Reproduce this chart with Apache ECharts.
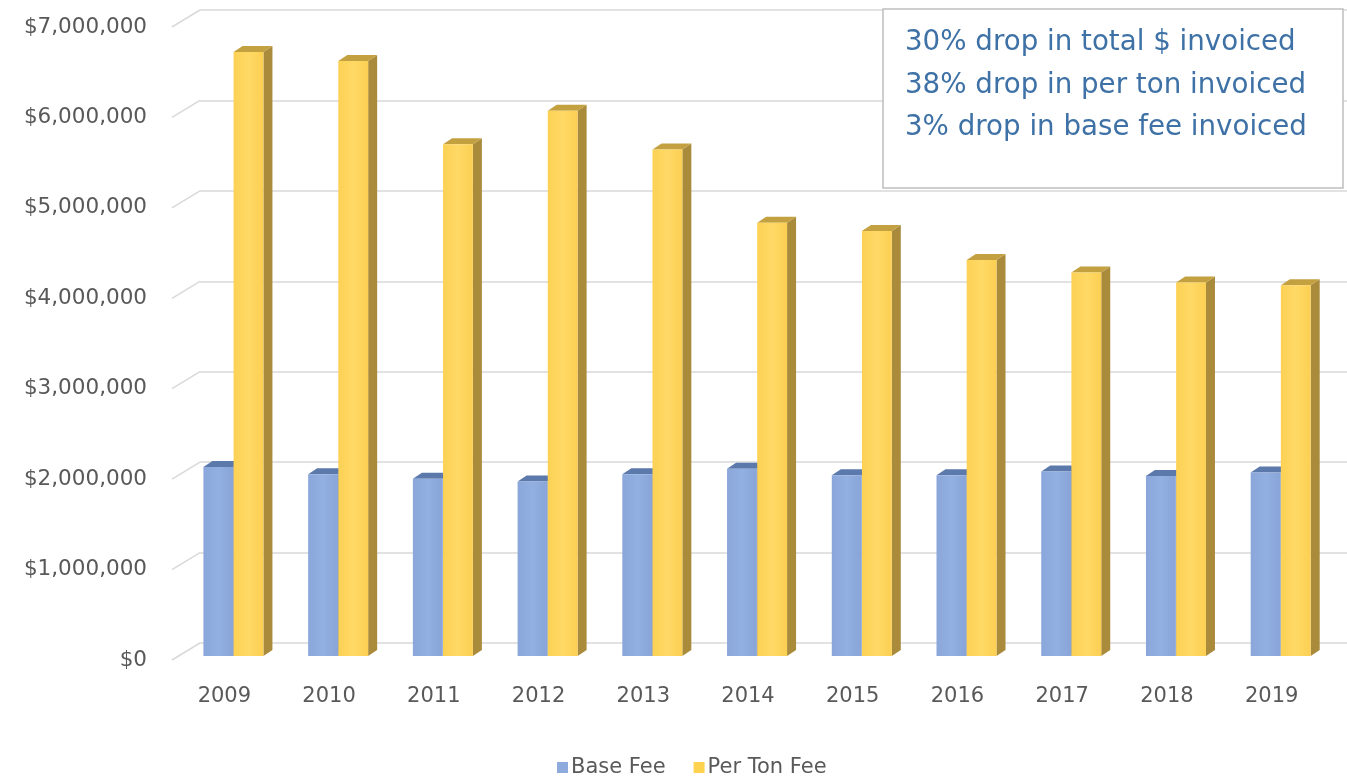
<!DOCTYPE html>
<html>
<head>
<meta charset="utf-8">
<title>Invoiced Fees 2009-2019</title>
<script src="https://cdn.jsdelivr.net/npm/echarts@6/dist/echarts.min.js"></script>
<style>
  html, body { margin: 0; padding: 0; background: #ffffff; }
  #chart { width: 1347px; height: 780px; }
</style>
</head>
<body>
<div id="chart"></div>
<script>
// Fiscal years on the category axis
const years = ['2009', '2010', '2011', '2012', '2013', '2014', '2015', '2016', '2017', '2018', '2019'];

// Dollars invoiced per year
const baseFee = [2090000, 2010000, 1960000, 1930000, 2010000, 2070000, 2000000, 2000000, 2040000, 1990000, 2030000];
const perTonFee = [6680000, 6580000, 5660000, 6030000, 5600000, 4790000, 4700000, 4380000, 4240000, 4130000, 4100000];

// Value-axis ticks
const yTicks = [0, 1000000, 2000000, 3000000, 4000000, 5000000, 6000000, 7000000];

// Callout text
const notes = ['30% drop in total $ invoiced', '38% drop in per ton invoiced', '3% drop in base fee invoiced'];

const FONT = 'DejaVu Sans';
const LABEL_COLOR = '#595959';
const GRID_COLOR = '#d9d9d9';

// Oblique depth of the wall/floor and of each column
const WALL_DX = 28, WALL_DY = -17;
const COL_DX = 9, COL_DY = -6;
const COL_LIFT = 4;

const fmtMoney = v => '$' + Math.round(v).toLocaleString('en-US');

// Draws one extruded column: front face, right side and top
function columnRenderer(offsetFrac, widthFrac, colors) {
  return function (params, api) {
    const idx = api.value(0);
    const v = api.value(1);
    const band = api.size([1, 0])[0];
    const base = api.coord([idx, 0]);
    const top = api.coord([idx, v]);
    const x0 = base[0] + band * offsetFrac;
    const x1 = x0 + band * widthFrac;
    const yb = base[1] - COL_LIFT;
    const yt = top[1] - COL_LIFT;
    return {
      type: 'group',
      children: [
        {
          type: 'polygon',
          shape: { points: [[x1, yt], [x1 + COL_DX, yt + COL_DY], [x1 + COL_DX, yb + COL_DY], [x1, yb]] },
          style: { fill: colors.side }
        },
        {
          type: 'polygon',
          shape: { points: [[x0, yt], [x0 + COL_DX, yt + COL_DY], [x1 + COL_DX, yt + COL_DY], [x1, yt]] },
          style: { fill: colors.top }
        },
        {
          type: 'rect',
          shape: { x: x0, y: yt, width: x1 - x0, height: yb - yt },
          style: {
            fill: new echarts.graphic.LinearGradient(0, 0, 1, 0, [
              { offset: 0, color: colors.front[0] },
              { offset: 0.5, color: colors.front[1] },
              { offset: 1, color: colors.front[2] }
            ])
          }
        }
      ]
    };
  };
}

const blueFaces = { front: ['#8aa6da', '#93b0e2', '#88a4d8'], side: '#6a86ba', top: '#5c79ab' };
const yellowFaces = { front: ['#fcd154', '#ffd966', '#fbcf52'], side: '#a98b3b', top: '#c4a140' };

const chart = echarts.init(document.getElementById('chart'), null, { renderer: 'canvas' });

const option = {
  backgroundColor: '#ffffff',
  animation: false,
  textStyle: { fontFamily: FONT },
  grid: [
    // back wall carrying the gridlines
    { left: 200, right: 0, top: 10, height: 633 },
    // front plane carrying labels and columns
    { left: 172, width: 1152, top: 27, height: 633 }
  ],
  xAxis: [
    { gridIndex: 0, type: 'category', data: years, show: false },
    {
      gridIndex: 1, type: 'category', data: years,
      axisLine: { show: false }, axisTick: { show: false },
      axisLabel: { color: LABEL_COLOR, fontSize: 21, fontFamily: FONT, margin: 26 }
    }
  ],
  yAxis: [
    {
      gridIndex: 0, type: 'value', min: 0, max: 7000000, interval: 1000000,
      axisLine: { show: false }, axisTick: { show: false }, axisLabel: { show: false },
      splitLine: { show: true, lineStyle: { color: GRID_COLOR, width: 1.5 } }
    },
    {
      gridIndex: 1, type: 'value', min: 0, max: 7000000, interval: 1000000,
      axisLine: { show: false }, axisTick: { show: false },
      splitLine: { show: false },
      axisLabel: { color: LABEL_COLOR, fontSize: 21.5, fontFamily: FONT, margin: 25, formatter: fmtMoney }
    }
  ],
  legend: {
    data: ['Base Fee', 'Per Ton Fee'],
    left: 552, top: 752,
    icon: 'rect', itemWidth: 11, itemHeight: 11, itemGap: 28,
    textStyle: { color: LABEL_COLOR, fontSize: 21, fontFamily: FONT, padding: [0, 0, 0, -2] },
    selectedMode: false
  },
  series: [
    {
      // slanted stubs joining the front labels to the back-wall gridlines
      type: 'custom', name: 'wall', silent: true,
      xAxisIndex: 1, yAxisIndex: 1,
      data: yTicks.map(v => [0, v]),
      encode: { x: 0, y: 1 },
      renderItem: function (params, api) {
        const p = api.coord([0, api.value(1)]);
        const x = params.coordSys.x;
        return {
          type: 'line',
          shape: { x1: x, y1: p[1], x2: x + WALL_DX, y2: p[1] + WALL_DY },
          style: { stroke: GRID_COLOR, lineWidth: 1.5 }
        };
      }
    },
    {
      type: 'custom', name: 'Base Fee', silent: true,
      xAxisIndex: 1, yAxisIndex: 1,
      itemStyle: { color: '#8faadc' },
      data: baseFee.map((v, i) => [i, v]),
      encode: { x: 0, y: 1 },
      renderItem: columnRenderer(-0.2, 0.285, blueFaces)
    },
    {
      type: 'custom', name: 'Per Ton Fee', silent: true,
      xAxisIndex: 1, yAxisIndex: 1,
      itemStyle: { color: '#ffd24f' },
      data: perTonFee.map((v, i) => [i, v]),
      encode: { x: 0, y: 1 },
      renderItem: columnRenderer(0.088, 0.285, yellowFaces)
    }
  ],
  graphic: [
    {
      type: 'rect', z: 100,
      shape: { x: 883, y: 9, width: 460, height: 179 },
      style: { fill: '#ffffff', stroke: '#bfbfbf', lineWidth: 1.5 }
    }
  ].concat(notes.map((t, i) => ({
    type: 'text', z: 101,
    x: 905, y: 43 + i * 42.5,
    style: {
      text: t, font: '27.7px "' + FONT + '"', fill: '#3e71a6',
      align: 'left', verticalAlign: 'middle',
      textAlign: 'left', textVerticalAlign: 'middle'
    }
  })))
};

chart.setOption(option);
</script>
</body>
</html>
